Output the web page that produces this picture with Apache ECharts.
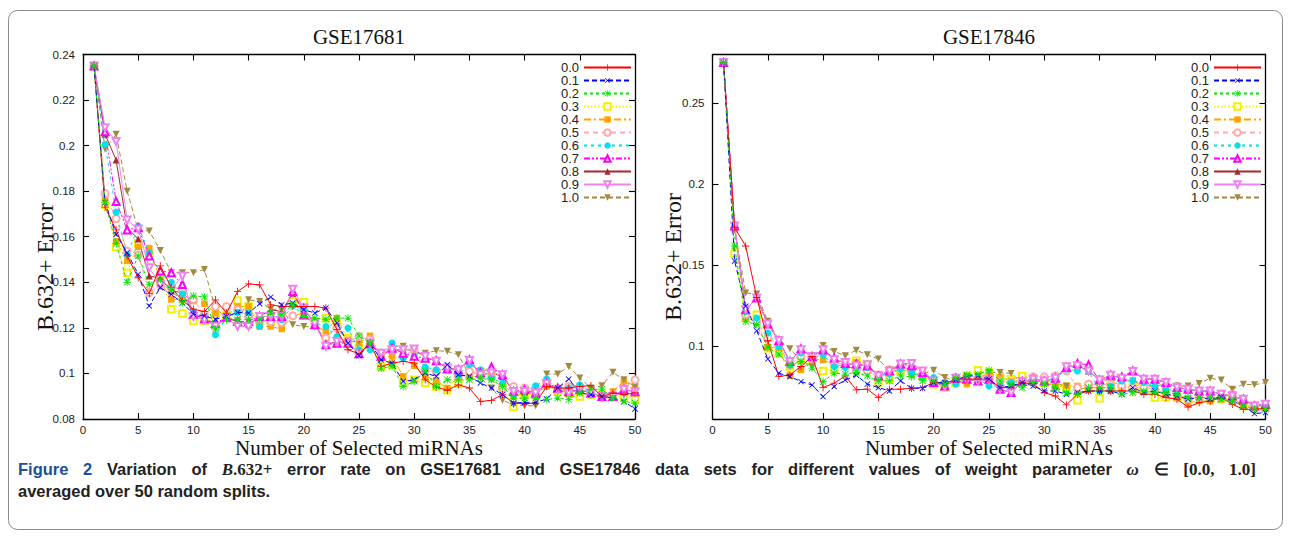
<!DOCTYPE html>
<html><head><meta charset="utf-8">
<script src="https://cdn.jsdelivr.net/npm/echarts@6/dist/echarts.min.js"></script>
<style>html,body{margin:0;padding:0;background:#fff}#c{width:1291px;height:538px}</style>
</head><body><div id="c"></div>
<script>
// ---------------- DATA ----------------
const xValues = [1,2,3,4,5,6,7,8,9,10,11,12,13,14,15,16,17,18,19,20,21,22,23,24,25,26,27,28,29,30,31,32,33,34,35,36,37,38,39,40,41,42,43,44,45,46,47,48,49,50];
const seriesNames = ['0.0','0.1','0.2','0.3','0.4','0.5','0.6','0.7','0.8','0.9','1.0'];
const panelTitles = ['GSE17681','GSE17846'];
const xAxisTitle = 'Number of Selected miRNAs';
const yAxisTitle = 'B.632+ Error';
const leftYTicks = [0.08,0.1,0.12,0.14,0.16,0.18,0.2,0.22,0.24];
const rightYTicks = [0.1,0.15,0.2,0.25];

// GSE17681 (left panel)
const left_00 = [0.235,0.173,0.163,0.1516,0.142,0.135,0.1472,0.1377,0.132,0.1282,0.1271,0.1323,0.1265,0.136,0.1393,0.1389,0.1301,0.1294,0.1294,0.1294,0.1294,0.1287,0.1192,0.1104,0.1086,0.1133,0.1031,0.1045,0.1053,0.1045,0.0972,0.094,0.0926,0.095,0.0936,0.0877,0.0882,0.0907,0.087,0.0867,0.087,0.0943,0.0936,0.0936,0.0943,0.0946,0.0899,0.0914,0.0907,0.0915];
const left_01 = [0.235,0.175,0.161,0.153,0.1435,0.1296,0.1377,0.1347,0.131,0.126,0.1252,0.1238,0.125,0.1268,0.1265,0.1306,0.1335,0.1301,0.1309,0.128,0.1265,0.1287,0.1221,0.1133,0.1078,0.1133,0.106,0.1045,0.0965,0.0972,0.1002,0.0987,0.1038,0.0994,0.0987,0.0958,0.0936,0.0907,0.087,0.0873,0.0873,0.0888,0.0936,0.0975,0.0914,0.0907,0.0899,0.0892,0.0877,0.0844];
const left_02 = [0.235,0.175,0.157,0.14,0.1516,0.139,0.1413,0.137,0.131,0.134,0.1336,0.1195,0.1236,0.1236,0.1236,0.1236,0.1265,0.1257,0.1301,0.125,0.1243,0.1238,0.1243,0.1243,0.1165,0.1133,0.1023,0.1031,0.0943,0.0965,0.1009,0.0943,0.0972,0.0972,0.0972,0.098,0.0972,0.0943,0.0892,0.0892,0.0892,0.0885,0.0892,0.0885,0.0914,0.0929,0.0931,0.0892,0.0877,0.087];
const left_03 = [0.235,0.174,0.1555,0.1442,0.157,0.153,0.1428,0.1282,0.1263,0.123,0.123,0.1257,0.1257,0.132,0.1294,0.1228,0.1228,0.1243,0.1316,0.1312,0.1221,0.1243,0.1214,0.1155,0.1111,0.1133,0.1031,0.1038,0.0958,0.0972,0.0958,0.0943,0.0926,0.0955,0.099,0.1009,0.0994,0.0936,0.0853,0.0907,0.0907,0.0958,0.0921,0.0914,0.0899,0.0907,0.0907,0.0899,0.0899,0.0885];
const left_04 = [0.235,0.177,0.158,0.1494,0.1556,0.155,0.1406,0.1325,0.1325,0.1318,0.1306,0.1265,0.125,0.1294,0.1294,0.1206,0.1206,0.1195,0.1253,0.1265,0.1214,0.1184,0.1243,0.1148,0.1133,0.1165,0.1075,0.1075,0.0987,0.1034,0.0987,0.0969,0.0936,0.0987,0.0994,0.1009,0.0994,0.094,0.0899,0.0914,0.0907,0.0943,0.0929,0.0943,0.0943,0.0921,0.0899,0.0921,0.0965,0.0943];
const left_05 = [0.235,0.179,0.1679,0.1537,0.152,0.1355,0.139,0.1377,0.137,0.1325,0.126,0.1294,0.1294,0.1279,0.125,0.1236,0.1228,0.1224,0.1253,0.1282,0.1228,0.1155,0.1199,0.114,0.1162,0.1148,0.1089,0.1104,0.1075,0.1104,0.1016,0.1009,0.1024,0.0987,0.1009,0.0994,0.098,0.0936,0.0943,0.0936,0.0929,0.0958,0.0929,0.0943,0.0943,0.0914,0.0899,0.0907,0.0936,0.0972];
const left_06 = [0.235,0.2005,0.1708,0.152,0.1647,0.153,0.1442,0.14,0.135,0.127,0.1245,0.117,0.1243,0.1268,0.1265,0.1206,0.1253,0.1236,0.1297,0.1279,0.1221,0.1206,0.1162,0.1199,0.1104,0.1104,0.1067,0.1133,0.1067,0.1075,0.1028,0.1016,0.1016,0.0994,0.1038,0.1016,0.098,0.0958,0.0907,0.0929,0.0946,0.0975,0.0931,0.0936,0.095,0.0907,0.0892,0.0907,0.0914,0.0915];
const left_07 = [0.235,0.2061,0.1755,0.163,0.164,0.1516,0.145,0.1442,0.139,0.126,0.124,0.122,0.1247,0.1228,0.1228,0.125,0.125,0.125,0.136,0.1257,0.1214,0.1126,0.1133,0.1133,0.1086,0.1133,0.1075,0.1111,0.1089,0.1075,0.1067,0.1056,0.1019,0.1016,0.106,0.1002,0.1028,0.0994,0.0921,0.0929,0.0914,0.0958,0.0936,0.0921,0.0929,0.0914,0.0899,0.0899,0.0929,0.092];
const left_08 = [0.235,0.205,0.1937,0.164,0.159,0.1428,0.1418,0.1362,0.1355,0.126,0.124,0.1214,0.1243,0.1228,0.1214,0.125,0.1279,0.1272,0.1352,0.1279,0.1221,0.1126,0.114,0.1133,0.1089,0.1126,0.1089,0.1104,0.1104,0.1104,0.1072,0.1053,0.1024,0.1016,0.1057,0.0994,0.1002,0.0987,0.0921,0.0921,0.0914,0.0955,0.0929,0.0914,0.0929,0.0914,0.0899,0.0899,0.0929,0.092];
const left_09 = [0.235,0.2079,0.2018,0.1673,0.1633,0.1464,0.139,0.137,0.1428,0.125,0.1235,0.1206,0.1243,0.1206,0.1206,0.125,0.125,0.125,0.137,0.1287,0.1221,0.1119,0.114,0.1133,0.1086,0.1133,0.1089,0.1104,0.1104,0.1107,0.1075,0.1053,0.1024,0.1016,0.1057,0.0994,0.1002,0.0994,0.0921,0.0921,0.0914,0.0955,0.0929,0.0914,0.0929,0.0914,0.0899,0.0899,0.0929,0.092];
const left_10 = [0.235,0.1985,0.205,0.18,0.163,0.1625,0.154,0.1442,0.1442,0.1442,0.1456,0.1284,0.1247,0.123,0.1323,0.1316,0.1282,0.128,0.1214,0.1206,0.1203,0.1155,0.1206,0.114,0.114,0.1126,0.1089,0.1119,0.1119,0.1089,0.1089,0.11,0.1097,0.1082,0.0994,0.098,0.0936,0.0882,0.0863,0.0858,0.0858,0.0997,0.0997,0.1031,0.098,0.0936,0.0946,0.1005,0.0972,0.0943];

// GSE17846 (right panel)
const right_00 = [0.275,0.1731,0.1618,0.13,0.1033,0.0812,0.0822,0.0874,0.0936,0.0744,0.0771,0.0816,0.073,0.0734,0.0682,0.0734,0.0734,0.074,0.0744,0.0775,0.0769,0.0796,0.0796,0.0796,0.0796,0.0744,0.0744,0.0775,0.0765,0.0713,0.0692,0.0637,0.0703,0.0723,0.0723,0.0723,0.0723,0.0723,0.0703,0.0703,0.0682,0.0672,0.0624,0.0651,0.0661,0.0682,0.0641,0.061,0.061,0.0616];
const right_01 = [0.275,0.1525,0.1246,0.1095,0.0921,0.0833,0.0812,0.0781,0.076,0.0688,0.075,0.079,0.082,0.0765,0.0744,0.0723,0.0785,0.074,0.074,0.0775,0.0775,0.079,0.0816,0.0816,0.0796,0.0744,0.0754,0.0775,0.0754,0.0723,0.0723,0.0703,0.0713,0.0723,0.0723,0.0723,0.0703,0.0744,0.0713,0.0723,0.0703,0.0692,0.0672,0.0682,0.0672,0.0686,0.0661,0.0631,0.0583,0.059];
const right_02 = [0.275,0.1618,0.1153,0.1132,0.0992,0.095,0.0884,0.0905,0.0864,0.0781,0.0833,0.0827,0.0837,0.0816,0.0785,0.0785,0.0816,0.081,0.0785,0.0785,0.0765,0.0802,0.0823,0.0827,0.0851,0.0785,0.0765,0.0744,0.0775,0.0765,0.0744,0.0713,0.0703,0.0744,0.0744,0.0744,0.0703,0.0713,0.0723,0.0713,0.0713,0.0703,0.0682,0.0682,0.0682,0.0672,0.0661,0.0631,0.061,0.061];
const right_03 = [0.275,0.157,0.1174,0.1194,0.0987,0.0957,0.0874,0.0915,0.0915,0.0847,0.0853,0.0878,0.0909,0.0889,0.0775,0.0796,0.0847,0.0847,0.0816,0.0765,0.0744,0.0775,0.0816,0.0851,0.0837,0.0806,0.0796,0.0816,0.0796,0.0775,0.0754,0.0744,0.0666,0.0734,0.0678,0.0754,0.0744,0.0744,0.0734,0.0682,0.0682,0.0682,0.0672,0.0692,0.0672,0.0672,0.0682,0.0631,0.062,0.062];
const right_04 = [0.275,0.172,0.1174,0.1153,0.0992,0.0988,0.0818,0.0853,0.0921,0.0915,0.0884,0.0878,0.0899,0.0878,0.0827,0.0858,0.0868,0.0827,0.0816,0.0775,0.0754,0.079,0.0765,0.0816,0.0816,0.0806,0.0785,0.0785,0.0785,0.0775,0.0754,0.0754,0.0754,0.0754,0.0734,0.0723,0.0754,0.0744,0.0775,0.0734,0.0703,0.0682,0.0651,0.0661,0.0661,0.0672,0.0672,0.0641,0.062,0.0631];
const right_05 = [0.275,0.173,0.1195,0.1153,0.105,0.1008,0.0884,0.0936,0.0921,0.096,0.0895,0.0889,0.0847,0.0847,0.0806,0.0847,0.0868,0.0858,0.0827,0.0785,0.0765,0.0806,0.0806,0.0785,0.0796,0.0785,0.0775,0.0785,0.081,0.081,0.0816,0.0847,0.0744,0.0765,0.0765,0.0765,0.0754,0.0744,0.0744,0.0734,0.0723,0.0703,0.0672,0.0682,0.0682,0.0682,0.0703,0.0661,0.0631,0.062];
const right_06 = [0.275,0.173,0.1215,0.1174,0.1081,0.0998,0.0884,0.0957,0.0926,0.0946,0.0874,0.0868,0.0868,0.0868,0.0816,0.0827,0.0858,0.0837,0.0806,0.0806,0.0775,0.0765,0.0796,0.0796,0.0754,0.0754,0.0775,0.0781,0.0802,0.0775,0.0796,0.0858,0.0847,0.0847,0.0723,0.0754,0.0785,0.0785,0.0775,0.0754,0.0734,0.0723,0.0723,0.0723,0.0713,0.0686,0.0692,0.0661,0.0631,0.0631];
const right_07 = [0.275,0.1741,0.1225,0.1297,0.1136,0.1033,0.0905,0.0983,0.0936,0.0977,0.0926,0.0893,0.0889,0.0878,0.0816,0.0847,0.0889,0.0878,0.0837,0.0775,0.0754,0.0802,0.0796,0.0785,0.0796,0.0734,0.0713,0.0781,0.0796,0.0785,0.0802,0.0868,0.0893,0.0885,0.079,0.082,0.081,0.0847,0.0796,0.0796,0.0775,0.0744,0.0734,0.0723,0.0723,0.0699,0.0692,0.0672,0.0631,0.0641];
const right_08 = [0.275,0.1735,0.1225,0.1297,0.1136,0.1033,0.0905,0.0977,0.0936,0.0977,0.0915,0.0899,0.0878,0.0885,0.0816,0.0847,0.0889,0.0893,0.0847,0.0785,0.0754,0.0802,0.0796,0.0785,0.079,0.0734,0.0713,0.0781,0.0796,0.0785,0.0802,0.0872,0.0878,0.0847,0.079,0.082,0.0802,0.0843,0.0796,0.0796,0.0775,0.0744,0.0734,0.0723,0.0723,0.0703,0.0692,0.0672,0.0631,0.0641];
const right_09 = [0.275,0.1741,0.1225,0.1297,0.1136,0.1033,0.0905,0.0977,0.0936,0.0977,0.0915,0.0899,0.0878,0.0885,0.0816,0.0847,0.0889,0.0893,0.0847,0.0785,0.0754,0.0802,0.0796,0.0785,0.079,0.0734,0.0713,0.0781,0.0796,0.0785,0.0802,0.0872,0.0878,0.0847,0.079,0.082,0.0802,0.0843,0.0796,0.0796,0.0775,0.0744,0.0734,0.0723,0.0723,0.0703,0.0692,0.0672,0.0631,0.0641];
const right_10 = [0.275,0.172,0.1328,0.1322,0.1153,0.1039,0.0983,0.0915,0.0874,0.1004,0.0967,0.094,0.0975,0.0946,0.092,0.0847,0.0847,0.0827,0.0827,0.0851,0.0806,0.0785,0.0785,0.0796,0.0837,0.0837,0.0831,0.0775,0.0785,0.0781,0.0769,0.0754,0.0723,0.0754,0.0796,0.0785,0.0796,0.0785,0.0754,0.0754,0.0765,0.0754,0.0754,0.0769,0.0802,0.079,0.0734,0.0765,0.0761,0.0775];

const leftData = [left_00,left_01,left_02,left_03,left_04,left_05,left_06,left_07,left_08,left_09,left_10];
const rightData = [right_00,right_01,right_02,right_03,right_04,right_05,right_06,right_07,right_08,right_09,right_10];

// caption words (each word = list of [text, styleKey])
const captionLine1 = [
  [['Figure','f']],[['2','f']],[['Variation','n']],[['of','n']],[['B','i'],['.632+','m']],
  [['error','n']],[['rate','n']],[['on','n']],[['GSE17681','n']],[['and','n']],[['GSE17846','n']],
  [['data','n']],[['sets','n']],[['for','n']],[['different','n']],[['values','n']],[['of','n']],
  [['weight','n']],[['parameter','n']],[['ω','i']],[['∈','m']],[['[0.0,','m']],[['1.0]','m']]
];
const captionLine2 = 'averaged over 50 random splits.';

// ---------------- STYLE ----------------
const PLUS = 'path://M4.45,0H5.55V4.45H10V5.55H5.55V10H4.45V5.55H0V4.45H4.45Z';
const STAR = 'path://M4.45,0H5.55V4.45H10V5.55H5.55V10H4.45V5.55H0V4.45H4.45Z M1.2,0.4L5,4.2L8.8,0.4L9.6,1.2L5.8,5L9.6,8.8L8.8,9.6L5,5.8L1.2,9.6L0.4,8.8L4.2,5L0.4,1.2Z';
const styles = [
  {c:'#ff0000', t:'solid',           s:PLUS,            r:0,   z:8},
  {c:'#0000ff', t:[5,3],             s:PLUS,            r:45,  z:8},
  {c:'#00e800', t:[3,3],             s:STAR,            r:0,   z:8},
  {c:'#f2f200', t:[1.5,2],           s:'emptyRect',     r:0,   z:6},
  {c:'#ffa500', t:[7,3,2,3],         s:'rect',          r:0,   z:6},
  {c:'#ffaaaa', t:[5,4],             s:'emptyCircle',   r:0,   z:6.5},
  {c:'#00e0ee', t:[3,4],             s:'circle',        r:0,   z:6.5},
  {c:'#ff00ff', t:[6,2,2,2,2,2],     s:'emptyTriangle', r:0,   z:6.5},
  {c:'#a52a2a', t:'solid',           s:'triangle',      r:0,   z:6},
  {c:'#ee82ee', t:'solid',           s:'emptyTriangle', r:180, z:6.5},
  {c:'#a08a40', t:[5,3],             s:'triangle',      r:180, z:6}
];

const grids = [
  {left:83, top:54.5, width:552, height:364.5},
  {left:712.5, top:54.5, width:553, height:364.5}
];

const tickFont = {color:'#222', fontFamily:'Liberation Sans', fontSize:11.5};
const serif = 'Liberation Serif';
const AX = {color:'#000', width:1.3};
const TK = {color:'#000', width:1.1};

const xAxes = [], yAxes = [];
[0,1].forEach(p => {
  xAxes.push({type:'value', gridIndex:p, min:0, max:50, interval:5, position:'bottom',
    axisLine:{show:true, onZero:false, lineStyle:AX},
    axisTick:{show:true, inside:true, length:6, lineStyle:TK},
    axisLabel:Object.assign({margin:5}, tickFont), splitLine:{show:false},
    name:xAxisTitle, nameLocation:'middle', nameGap:19, nameMoveOverlap:false,
    nameTextStyle:{fontFamily:serif, fontSize:21, color:'#111', lineHeight:20, verticalAlign:'top'}});
  xAxes.push({type:'value', gridIndex:p, min:0, max:50, interval:5, position:'top',
    axisLine:{show:true, onZero:false, lineStyle:AX},
    axisTick:{show:true, inside:true, length:6, lineStyle:TK},
    axisLabel:{show:false}, splitLine:{show:false}});
});
yAxes.push({type:'value', gridIndex:0, min:0.08, max:0.24, interval:0.02, position:'left',
  axisLine:{show:true, onZero:false, lineStyle:AX},
  axisTick:{show:true, inside:true, length:6, lineStyle:TK},
  axisLabel:Object.assign({margin:8}, tickFont), splitLine:{show:false}});
yAxes.push({type:'value', gridIndex:0, min:0.08, max:0.24, interval:0.02, position:'right',
  axisLine:{show:true, onZero:false, lineStyle:AX},
  axisTick:{show:true, inside:true, length:6, lineStyle:TK},
  axisLabel:{show:false}, splitLine:{show:false}});
yAxes.push({type:'value', gridIndex:1, min:0.055, max:0.28, position:'left',
  axisLine:{show:true, onZero:false, lineStyle:AX},
  axisTick:{show:true, inside:true, length:6, customValues:rightYTicks, lineStyle:TK},
  axisLabel:Object.assign({margin:8, customValues:rightYTicks}, tickFont), splitLine:{show:false}});
yAxes.push({type:'value', gridIndex:1, min:0.055, max:0.28, position:'right',
  axisLine:{show:true, onZero:false, lineStyle:AX},
  axisTick:{show:true, inside:true, length:6, customValues:rightYTicks, lineStyle:TK},
  axisLabel:{show:false}, splitLine:{show:false}});

const series = [];
[leftData, rightData].forEach((panel, p) => {
  panel.forEach((arr, i) => {
    const st = styles[i];
    const empty = typeof st.s === 'string' && st.s.indexOf('empty') === 0;
    series.push({
      type:'line', name:seriesNames[i], xAxisIndex:p*2, yAxisIndex:p*2,
      data:xValues.map((x,k) => [x, arr[k]]),
      symbol:st.s, symbolRotate:st.r,
      symbolSize: st.s===PLUS||st.s===STAR ? 7.5 : (st.s==='rect'||st.s==='emptyRect' ? 6.5 : 7),
      showAllSymbol:true, clip:false, z:st.z,
      lineStyle:{color:st.c, width:1, type:st.t},
      itemStyle:{color:st.c, borderColor:st.c, borderWidth: empty ? 1.1 : 0},
      emphasis:{disabled:true}, silent:true
    });
  });
});

const legendBase = {
  data:seriesNames, orient:'vertical', top:61, align:'right',
  itemWidth:47, itemHeight:8, itemGap:0, padding:0, selectedMode:false,
  textStyle:{fontFamily:'Liberation Sans', fontSize:13, color:'#222', lineHeight:12.1}
};

// ---------------- CAPTION LAYOUT (justified first line) ----------------
const capFonts = {
  f:{font:'bold 16.5px "Liberation Sans"', fill:'#1f4f94'},
  n:{font:'bold 16.5px "Liberation Sans"', fill:'#222'},
  i:{font:'italic bold 17px "Liberation Serif"', fill:'#222'},
  m:{font:'bold 17px "Liberation Serif"', fill:'#222'}
};
const mctx = document.createElement('canvas').getContext('2d');
function measure(t, k){ mctx.font = capFonts[k].font; return mctx.measureText(t).width; }
const capX0 = 18, capX1 = 1256, capY1 = 469, capY2 = 491;
let wordsW = 0;
const wordWidths = captionLine1.map(w => { const ww = w.reduce((s,pc)=>s+measure(pc[0],pc[1]),0); wordsW += ww; return ww; });
const gap = (capX1 - capX0 - wordsW) / (captionLine1.length - 1);
const captionGraphics = [];
let cx = capX0;
captionLine1.forEach((w, wi) => {
  let px = cx;
  w.forEach(pc => {
    captionGraphics.push({type:'text', x:px, y:capY1, silent:true,
      style:{text:pc[0], font:capFonts[pc[1]].font, fill:capFonts[pc[1]].fill, lineHeight:18,
        verticalAlign:'middle', align:'left'}});
    px += measure(pc[0], pc[1]);
  });
  cx += wordWidths[wi] + gap;
});
captionGraphics.push({type:'text', x:capX0, y:capY2, silent:true,
  style:{text:captionLine2, font:capFonts.n.font, fill:'#222', lineHeight:18, verticalAlign:'middle'}});

const option = {
  backgroundColor:'#fff',
  animation:false,
  grid:grids,
  xAxis:xAxes,
  yAxis:yAxes,
  legend:[Object.assign({right:659}, legendBase), Object.assign({right:29}, legendBase)],
  series:series,
  graphic:[
    {type:'rect', shape:{x:8.5, y:10.5, width:1274, height:519, r:9},
     style:{fill:'none', stroke:'#8c8c8c', lineWidth:1}, silent:true},
    {type:'text', x:359, y:37, style:{text:panelTitles[0], align:'center', verticalAlign:'middle',
      font:'21px "Liberation Serif"', fill:'#111'}},
    {type:'text', x:989, y:37, style:{text:panelTitles[1], align:'center', verticalAlign:'middle',
      font:'21px "Liberation Serif"', fill:'#111'}},
    {type:'text', x:45, y:267, rotation:Math.PI/2, style:{text:yAxisTitle, align:'center', verticalAlign:'middle',
      font:'24px "Liberation Serif"', fill:'#111'}},
    {type:'text', x:673, y:257, rotation:Math.PI/2, style:{text:yAxisTitle, align:'center', verticalAlign:'middle',
      font:'24px "Liberation Serif"', fill:'#111'}}
  ].concat(captionGraphics)
};

const chart = echarts.init(document.getElementById('c'), null, {renderer:'svg'});
chart.setOption(option);
</script>
</body></html>
